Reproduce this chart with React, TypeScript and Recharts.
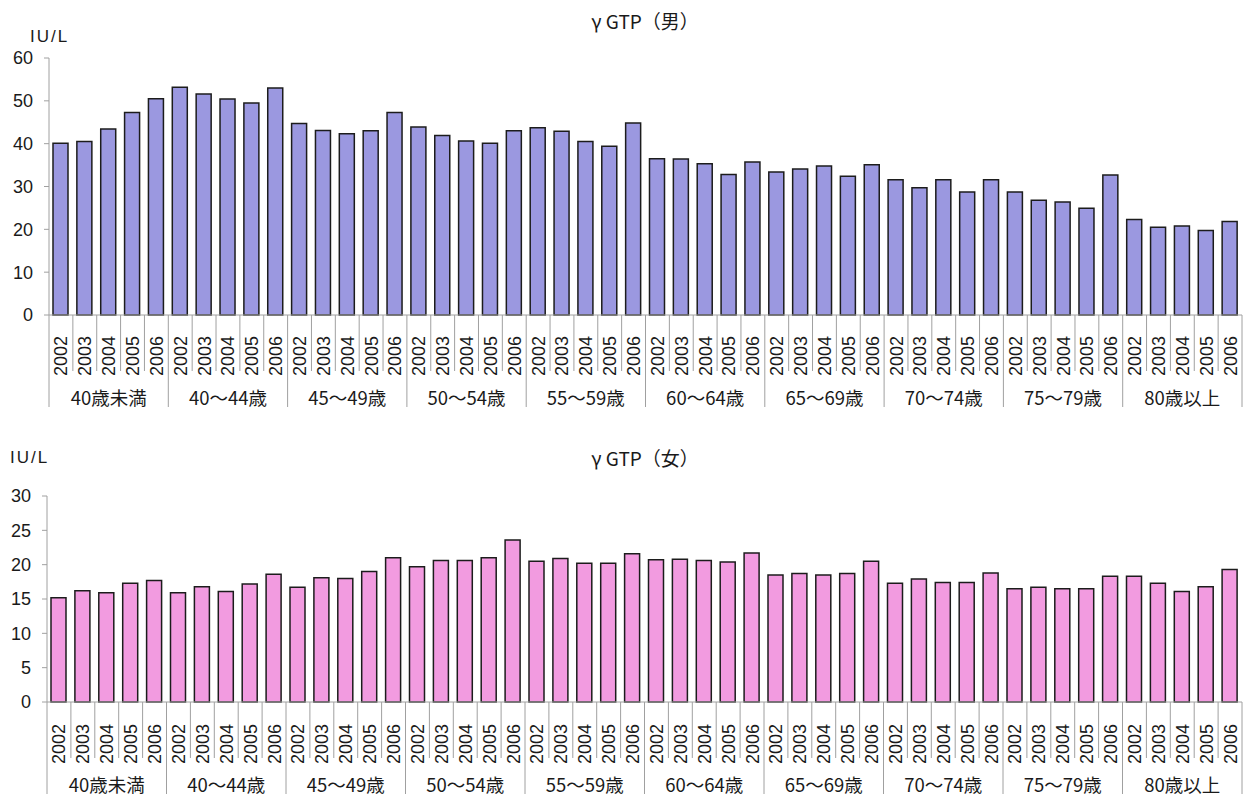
import React from "react";
import { BarChart, Bar, XAxis, YAxis } from "recharts";

const years = ["2002", "2003", "2004", "2005", "2006"];
const ageGroups = [
  "40歳未満",
  "40～44歳",
  "45～49歳",
  "50～54歳",
  "55～59歳",
  "60～64歳",
  "65～69歳",
  "70～74歳",
  "75～79歳",
  "80歳以上",
];

// male, 5 years per age group
const maleValues = [
  40.1, 40.5, 43.4, 47.3, 50.5,
  53.2, 51.6, 50.4, 49.5, 53.0,
  44.7, 43.1, 42.3, 43.0, 47.3,
  43.9, 41.9, 40.6, 40.1, 43.0,
  43.7, 42.9, 40.5, 39.4, 44.8,
  36.5, 36.4, 35.3, 32.8, 35.7,
  33.4, 34.1, 34.8, 32.4, 35.1,
  31.6, 29.7, 31.6, 28.7, 31.6,
  28.7, 26.8, 26.4, 24.9, 32.7,
  22.3, 20.5, 20.8, 19.7, 21.8,
];

// female
const femaleValues = [
  15.2, 16.2, 15.9, 17.3, 17.7,
  15.9, 16.8, 16.1, 17.2, 18.6,
  16.7, 18.1, 18.0, 19.0, 21.0,
  19.7, 20.6, 20.6, 21.0, 23.6,
  20.5, 20.9, 20.2, 20.2, 21.6,
  20.7, 20.8, 20.6, 20.4, 21.7,
  18.5, 18.7, 18.5, 18.7, 20.5,
  17.3, 17.9, 17.4, 17.4, 18.8,
  16.5, 16.7, 16.5, 16.5, 18.3,
  18.3, 17.3, 16.1, 16.8, 19.3,
];

const maleTicks = [0, 10, 20, 30, 40, 50, 60];
const femaleTicks = [0, 5, 10, 15, 20, 25, 30];

const buildRows = (values: number[]) =>
  ageGroups.flatMap((group, gi) =>
    years.map((year, yi) => ({
      year,
      group,
      value: values[gi * years.length + yi],
    }))
  );

const maleData = buildRows(maleValues);
const femaleData = buildRows(femaleValues);

const FONT = '"Liberation Sans", Arial, "Noto Sans CJK JP", sans-serif';
const CJK = '"Noto Sans CJK JP", "Liberation Sans", sans-serif';
const WIDTH = 1253;
const PLOT_RIGHT = 1242;

function YearTick(props: any) {
  const { x, payload, index, axisY, yearTop, groupMid, shortLen, longLen } = props;
  const y = axisY;
  const half = payload && payload.offset ? payload.offset : 11.9;
  const perGroup = years.length;
  const isGroupStart = index % perGroup === 0;
  const isLast = index === ageGroups.length * perGroup - 1;
  return (
    <g>
      <line
        x1={x - half}
        x2={x - half}
        y1={y}
        y2={y + (isGroupStart ? longLen : shortLen)}
        stroke="#a0a0a0"
        strokeWidth={1}
      />
      {isLast && (
        <line
          x1={x + half}
          x2={x + half}
          y1={y}
          y2={y + longLen}
          stroke="#a0a0a0"
          strokeWidth={1}
        />
      )}
      <g transform={`translate(${x} ${y + yearTop}) rotate(-90)`}>
        <text
          x={0}
          y={0}
          textAnchor="end"
          dy="0.36em"
          fontSize={18}
          fontFamily={FONT}
          fill="#1a1a1a"
        >
          {payload.value}
        </text>
      </g>
      {index % perGroup === 2 && (
        <text
          x={x}
          y={y + groupMid}
          textAnchor="middle"
          dy="0.36em"
          fontSize={18.5}
          fontFamily={CJK}
          fill="#1a1a1a"
        >
          {ageGroups[Math.floor(index / perGroup)]}
        </text>
      )}
    </g>
  );
}

type PanelProps = {
  top: number;
  height: number;
  plotTop: number;
  axisY: number;
  axisX: number;
  title: string;
  titleY: number;
  unitX: number;
  unitY: number;
  data: { year: string; group: string; value: number }[];
  ticks: number[];
  fill: string;
  yearTop: number;
  groupMid: number;
};

function GtpPanel(p: PanelProps) {
  const yWidth = 40;
  return (
    <div
      style={{
        position: "absolute",
        left: 0,
        top: p.top,
        width: WIDTH,
        height: p.height,
      }}
    >
      <BarChart
        width={WIDTH}
        height={p.height}
        data={p.data}
        margin={{
          top: p.plotTop,
          right: WIDTH - PLOT_RIGHT,
          bottom: 0,
          left: p.axisX - yWidth,
        }}
      >
        <XAxis
          dataKey="year"
          interval={0}
          height={p.height - p.axisY}
          tickLine={false}
          tickSize={0}
          tickMargin={0}
          axisLine={{ stroke: "#a0a0a0" }}
          tick={(tp: any) => (
            <YearTick
              {...tp}
              axisY={p.axisY}
              yearTop={p.yearTop}
              groupMid={p.groupMid}
              shortLen={56}
              longLen={92}
            />
          )}
        />
        <YAxis
          width={yWidth}
          domain={[p.ticks[0], p.ticks[p.ticks.length - 1]]}
          ticks={p.ticks}
          interval={0}
          tickSize={5}
          tickMargin={11}
          axisLine={{ stroke: "#a0a0a0" }}
          tickLine={{ stroke: "#a0a0a0" }}
          tick={{ fontSize: 18, fontFamily: FONT, fill: "#1a1a1a" }}
        />
        <Bar
          dataKey="value"
          barSize={15}
          fill={p.fill}
          stroke="#1c1c1c"
          strokeWidth={1.5}
          isAnimationActive={false}
        />
      </BarChart>
      <div
        style={{
          position: "absolute",
          left: 545,
          width: 200,
          top: p.titleY - 13,
          height: 26,
          lineHeight: "26px",
          textAlign: "center",
          fontFamily: CJK,
          fontSize: 19,
          color: "#1a1a1a",
          whiteSpace: "pre",
          zIndex: 2,
        }}
      >
        {`γ GTP（${p.title}）`}
      </div>
      <div
        style={{
          position: "absolute",
          left: p.unitX,
          top: p.unitY - 12,
          height: 24,
          lineHeight: "24px",
          fontFamily: FONT,
          fontSize: 17,
          letterSpacing: 2,
          color: "#1a1a1a",
          whiteSpace: "pre",
          zIndex: 2,
        }}
      >
        IU/L
      </div>
    </div>
  );
}

export default function App() {
  return (
    <div
      style={{
        position: "absolute",
        left: 0,
        top: 0,
        width: WIDTH,
        height: 798,
        background: "#ffffff",
        overflow: "hidden",
      }}
    >
      <GtpPanel
        top={0}
        height={420}
        plotTop={58}
        axisY={315}
        axisX={49}
        title="男"
        titleY={21}
        unitX={30}
        unitY={37}
        data={maleData}
        ticks={maleTicks}
        fill="#9b98e0"
        yearTop={21}
        groupMid={83}
      />
      <GtpPanel
        top={430}
        height={368}
        plotTop={66}
        axisY={272}
        axisX={47}
        title="女"
        titleY={28}
        unitX={10}
        unitY={28}
        data={femaleData}
        ticks={femaleTicks}
        fill="#f29be0"
        yearTop={22}
        groupMid={83}
      />
    </div>
  );
}
